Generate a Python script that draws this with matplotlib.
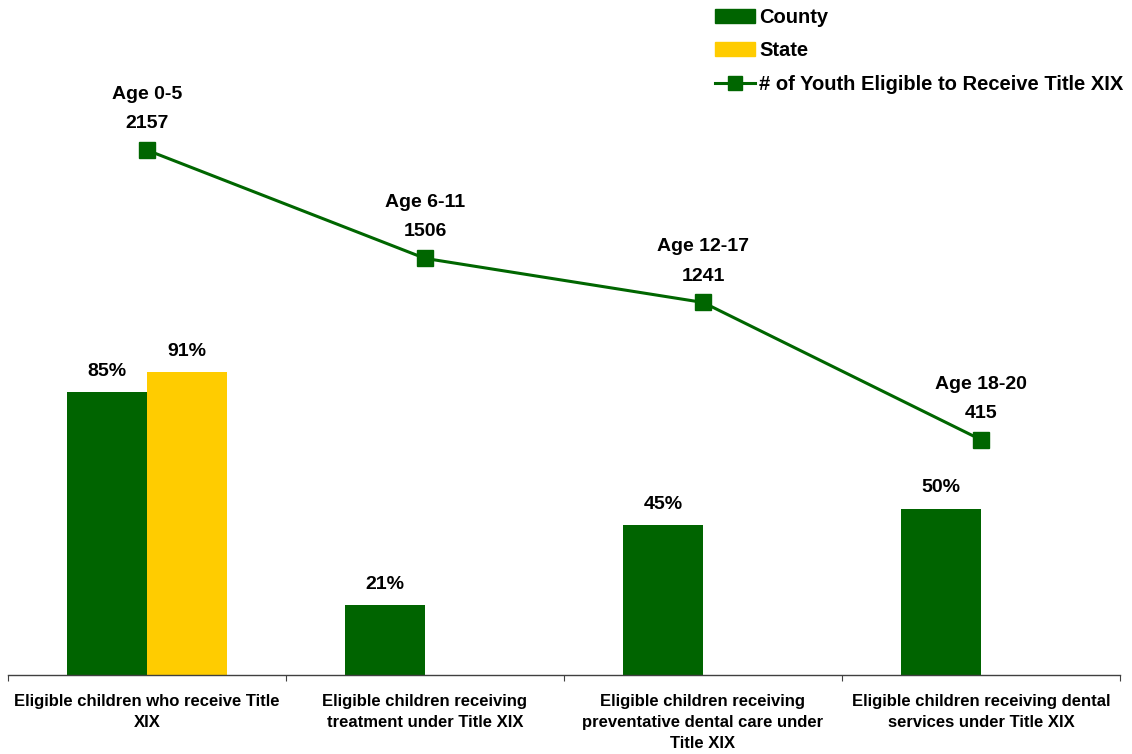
import matplotlib
matplotlib.use("Agg")
import matplotlib.pyplot as plt
import numpy as np
from matplotlib.patches import Patch
from matplotlib.lines import Line2D

categories = ["Eligible children who receive Title\nXIX",
              "Eligible children receiving\ntreatment under Title XIX",
              "Eligible children receiving\npreventative dental care under\nTitle XIX",
              "Eligible children receiving dental\nservices under Title XIX"]
county = [85, 21, 45, 50]
state = [91, None, None, None]
youth = [2157, 1506, 1241, 415]
age_groups = ["Age 0-5", "Age 6-11", "Age 12-17", "Age 18-20"]

GREEN = "#006400"
YELLOW = "#FFCC00"
LINEG = "#006600"

plt.rcParams['font.family'] = ['Liberation Sans', 'DejaVu Sans']
plt.rcParams['font.weight'] = 'bold'

fig = plt.figure(figsize=(11.32, 7.54), dpi=100)
W, H = 1132, 754
ax = fig.add_axes([8 / W, (H - 675) / H, 1112 / W, 665 / H])
ax2 = ax.twinx()

LBL = 14

x = np.arange(len(categories))
w = 80 / 278
ax.bar(x - w / 2, county, width=w, color=GREEN, zorder=2)
sx = [xi for xi, s in zip(x, state) if s is not None]
sv = [s for s in state if s is not None]
ax.bar(np.array(sx) + w / 2, sv, width=w, color=YELLOW, zorder=2)

for xi, v in zip(x, county):
    ax.annotate(f"{v}%", (xi - w / 2, v), xytext=(0, 15), textcoords="offset points",
                ha="center", va="center", fontsize=LBL, fontweight="bold")
for xi, v in zip(sx, sv):
    ax.annotate(f"{v}%", (xi + w / 2, v), xytext=(0, 15), textcoords="offset points",
                ha="center", va="center", fontsize=LBL, fontweight="bold")

ax.set_xlim(-0.5, len(categories) - 0.5)
ax.set_ylim(0, 200)
ax2.set_ylim(-1000, 3000)

ax2.plot(x, youth, color=LINEG, lw=2.2, marker="s", markersize=12,
         markerfacecolor=LINEG, markeredgecolor=LINEG, zorder=3)
for xi, v, a in zip(x, youth, age_groups):
    ax2.annotate(str(v), (xi, v), xytext=(0, 19), textcoords="offset points",
                 ha="center", va="center", fontsize=LBL, fontweight="bold")
    ax2.annotate(a, (xi, v), xytext=(0, 40), textcoords="offset points",
                 ha="center", va="center", fontsize=LBL, fontweight="bold")

for a in (ax, ax2):
    for s in ("top", "right", "left"):
        a.spines[s].set_visible(False)
    a.set_yticks([])
ax2.spines["bottom"].set_visible(False)
ax.spines["bottom"].set_color("#404040")
ax.spines["bottom"].set_linewidth(1)

ax.set_xticks(np.arange(-0.5, len(categories), 1.0))
ax.set_xticklabels([])
ax.tick_params(axis="x", which="major", length=4, color="#404040", direction="out")
ax.set_xticks(x, minor=True)
ax.set_xticklabels(categories, minor=True, fontsize=12, fontweight="bold",
                   linespacing=1.5)
ax.tick_params(axis="x", which="minor", length=0, pad=13.5)

handles = [Patch(facecolor=GREEN, edgecolor=GREEN),
           Patch(facecolor=YELLOW, edgecolor=YELLOW),
           Line2D([0], [0], color=LINEG, lw=2.2, marker="s", markersize=10,
                  markerfacecolor=LINEG)]
labels = ["County", "State", "# of Youth Eligible to Receive Title XIX"]
leg = fig.legend(handles, labels, loc="upper left", bbox_to_anchor=(697 / W, 1 + 10 / H),
                 frameon=False, handlelength=2.0, handleheight=0.7,
                 labelspacing=0.71, handletextpad=0.2,
                 prop={"weight": "bold", "size": 14.5})

fig.savefig("out.png", dpi=100)
